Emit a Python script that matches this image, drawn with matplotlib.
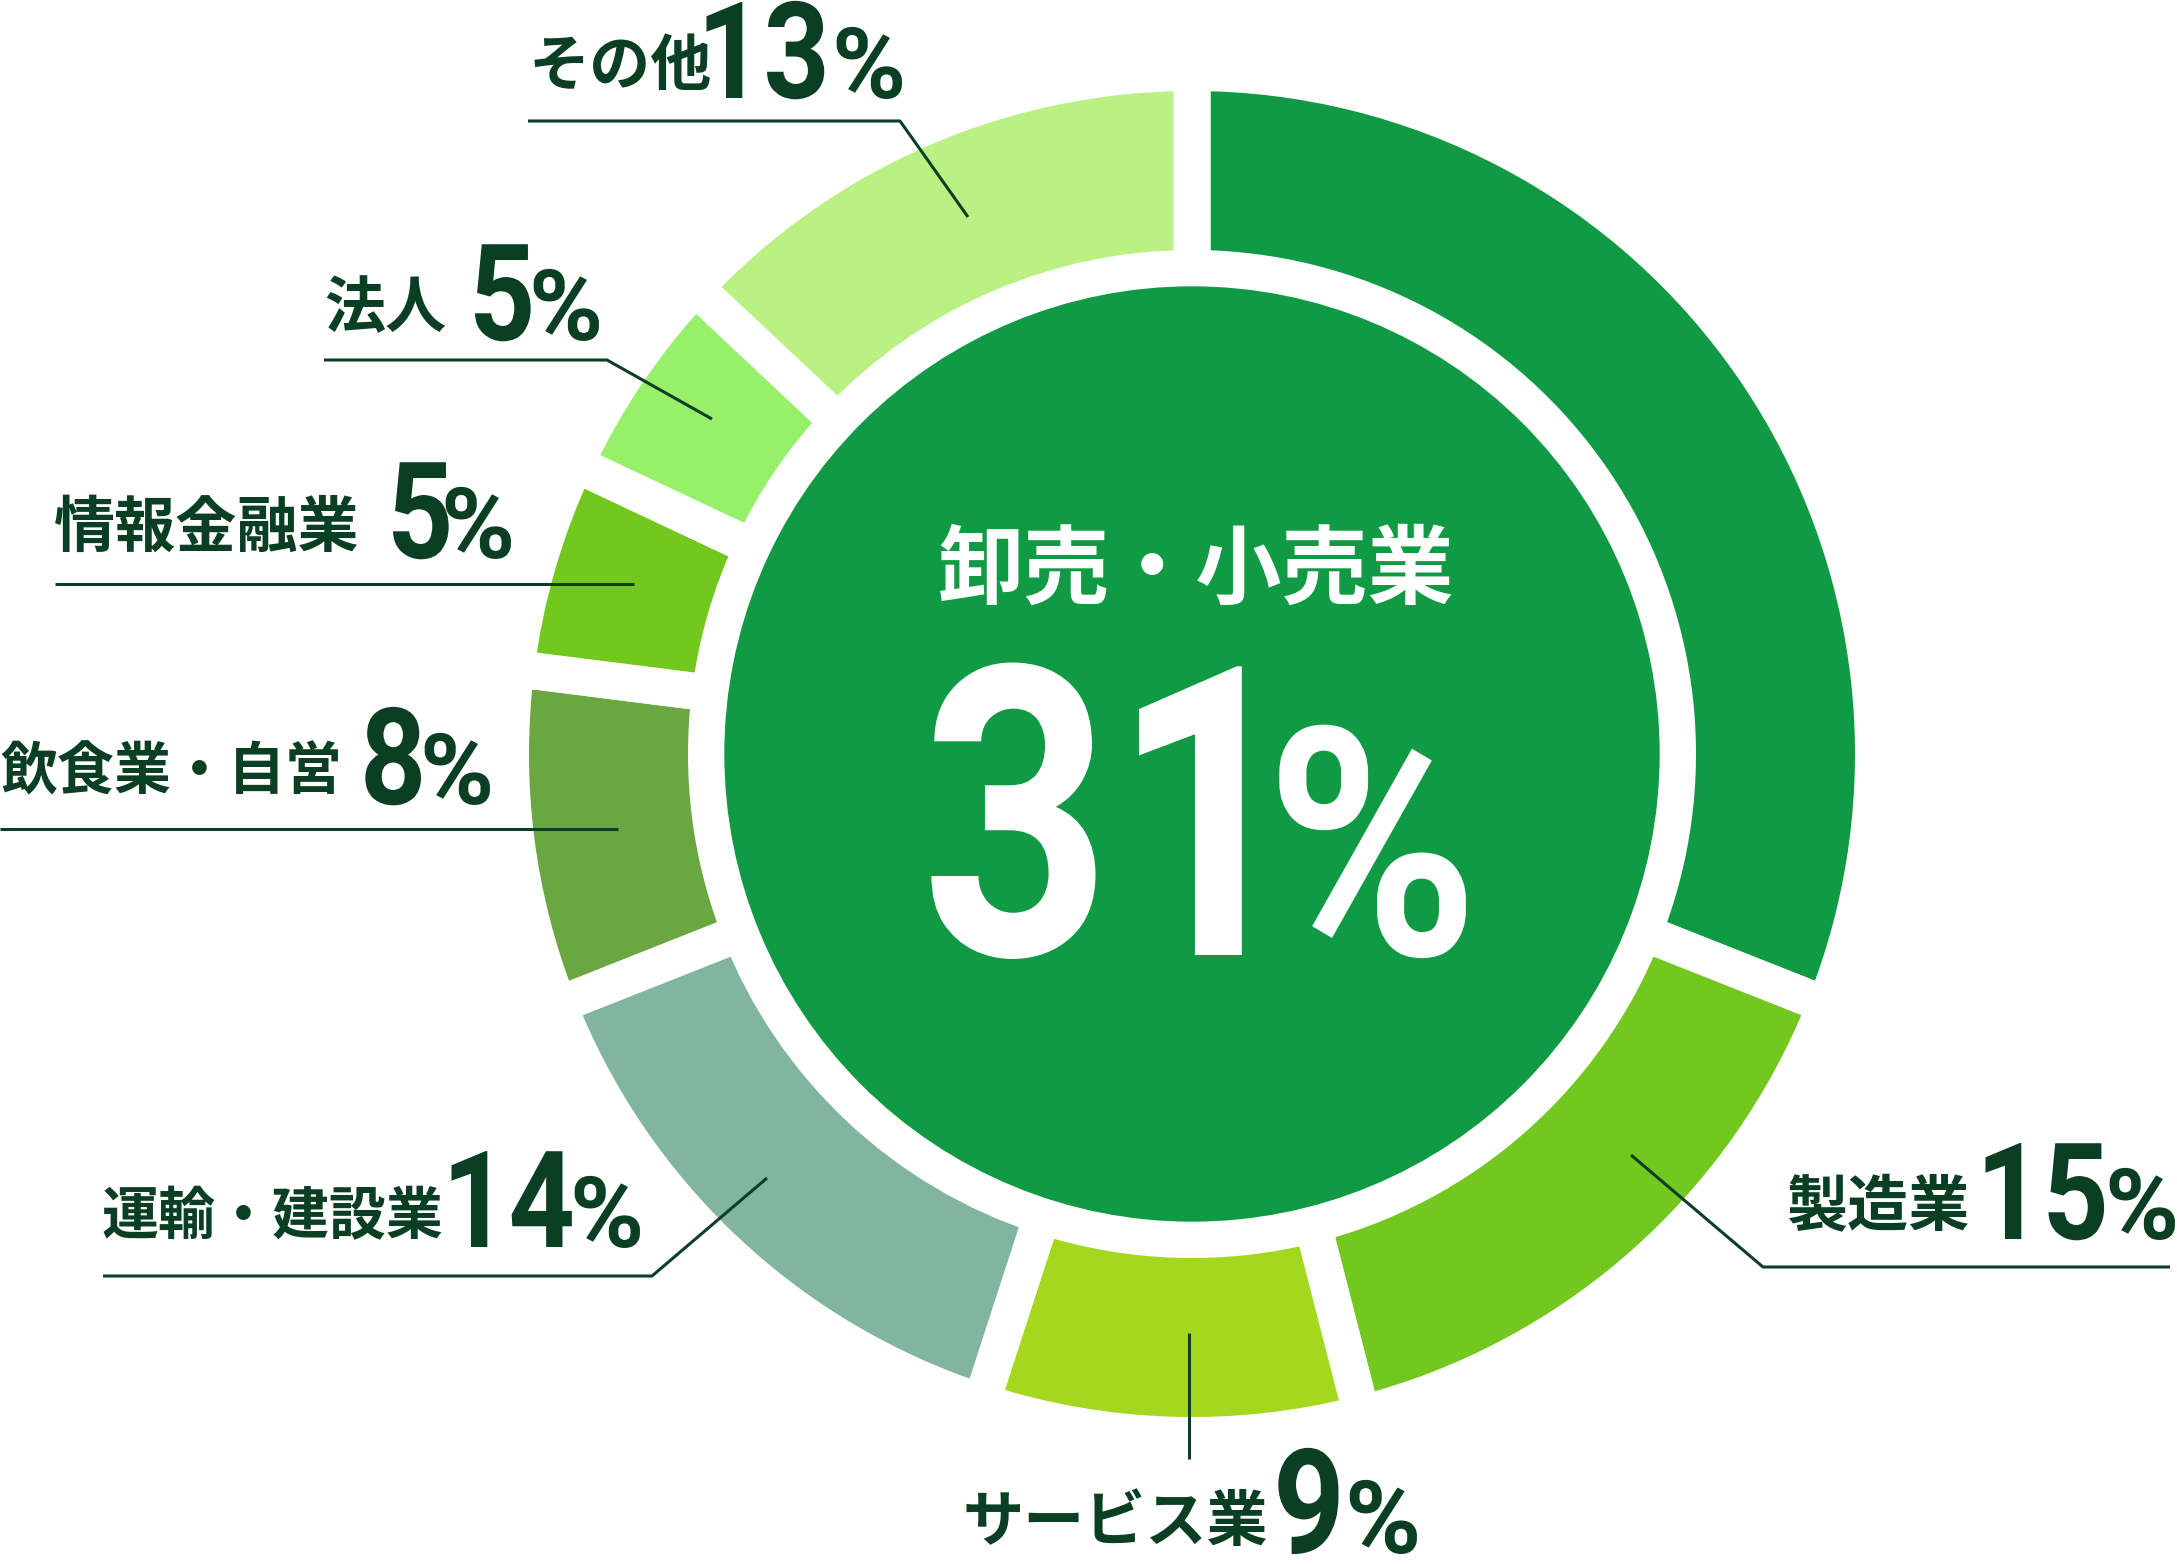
import matplotlib.pyplot as plt
from matplotlib.patches import Circle
from matplotlib.patheffects import AbstractPathEffect, PathEffectRenderer
from matplotlib.transforms import Affine2D

# industry shares, clockwise from 12 o'clock
industries = ['卸売・小売業', '製造業', 'サービス業', '運輸・建設業',
              '飲食業・自営', '情報金融業', '法人', 'その他']
shares = [31, 15, 9, 14, 8, 5, 5, 13]
colors = ['#0F9A43', '#72C81F', '#A5D71E', '#82B59F',
          '#6AA642', '#72C81F', '#97F06A', '#BBF183']

W, H = 2177, 1564
cx, cy = 1192, 754
R_OUT, R_IN, R_CORE = 663, 504, 467
GAP = 37  # white gap between segments, px

DARK = '#0B3F23'
JP = 'Noto Sans CJK JP'
NUM = 'Roboto'


class Squeeze(AbstractPathEffect):
    """draw text narrower/wider around x0 (pixels)"""
    def __init__(self, sx, x0):
        super().__init__()
        self.sx, self.x0 = sx, x0

    def draw_path(self, renderer, gc, tpath, affine, rgbFace=None):
        if isinstance(renderer, PathEffectRenderer):
            renderer = renderer._renderer
        affine = affine + Affine2D().translate(-self.x0, 0).scale(self.sx, 1).translate(self.x0, 0)
        renderer.draw_path(gc, tpath, affine, rgbFace)


fig = plt.figure(figsize=(W / 100, H / 100), dpi=100)
ax = fig.add_axes([0, 0, 1, 1])

# y axis is flipped below (pixel coords), so start at -90 and go "counterclock"
# -> visually clockwise from the top
gap_pt = GAP * 72 / 100
ax.pie(shares, colors=colors, center=(cx, cy), radius=R_OUT + GAP / 2,
       startangle=-90, counterclock=True,
       wedgeprops=dict(width=R_OUT - R_IN + GAP, edgecolor='white',
                       linewidth=gap_pt, joinstyle='miter'))
ax.add_patch(Circle((cx, cy), R_CORE, color=colors[0], zorder=3))

ax.set_xlim(0, W)
ax.set_ylim(H, 0)
ax.axis('off')

# label layout: text (x, y), number (x, size), % (x, size), baseline, leader line
layout = {
    '製造業':     dict(txt=(1786, 1208), num=(1976, 97), pct=(2105, 71), base=1239,
                     line=[(2170, 1267), (1763, 1267), (1631, 1155)]),
    'サービス業': dict(txt=(962, 1523), num=(1273, 105), pct=(1345, 73), base=1553,
                     line=[(1189, 1333), (1189, 1459)]),
    '運輸・建設業': dict(txt=(102, 1217), num=(442, 97), pct=(570, 71), base=1247,
                     line=[(103, 1276), (652, 1276), (767, 1178)]),
    '飲食業・自営': dict(txt=(0, 773), num=(360, 97), pct=(420, 71), base=804,
                     line=[(0, 829), (618, 829)]),
    '情報金融業': dict(txt=(54, 529), num=(387, 97), pct=(441, 71), base=558,
                     line=[(55, 584), (634, 584)]),
    '法人':       dict(txt=(324, 309), num=(469, 97), pct=(529, 71), base=340,
                     line=[(324, 360), (607, 360), (712, 419)]),
    'その他':     dict(txt=(529, 67), num=(697, 97), pct=(832, 71), base=98,
                     line=[(528, 121), (900, 121), (968, 217)]),
}
txt_size = {'運輸・建設業': 41, '飲食業・自営': 41}

for name, val in zip(industries[1:], shares[1:]):
    L = layout[name]
    x, y = L['txt']
    ax.text(x, y, name, family=JP, fontsize=txt_size.get(name, 44), fontweight='bold',
            color=DARK, ha='left', va='center', zorder=5)
    x, s = L['num']
    ax.text(x, L['base'], str(val), family=NUM, fontsize=s, fontweight='bold',
            color=DARK, ha='left', va='baseline', zorder=5,
            path_effects=[Squeeze(0.86, x)])
    x, s = L['pct']
    ax.text(x, L['base'], '%', family=NUM, fontsize=s, fontweight='bold',
            color=DARK, ha='left', va='baseline', zorder=5,
            path_effects=[Squeeze(1.02, x)])
    xs, ys = zip(*L['line'])
    ax.plot(xs, ys, color=DARK, lw=2.2, solid_capstyle='butt', zorder=6)

# centre label
ax.text(1196, 571, industries[0], family=JP, fontsize=62, fontweight='bold',
        color='white', ha='center', va='center', zorder=5)
ax.text(921, 955, str(shares[0]), family=NUM, fontsize=292, fontweight='bold',
        color='white', ha='left', va='baseline', zorder=5,
        path_effects=[Squeeze(0.82, 921)])
ax.text(1266, 955, '%', family=NUM, fontsize=230, fontweight='bold',
        color='white', ha='left', va='baseline', zorder=5,
        path_effects=[Squeeze(0.9, 1266)])

fig.savefig('out.png', dpi=100, facecolor='white')
